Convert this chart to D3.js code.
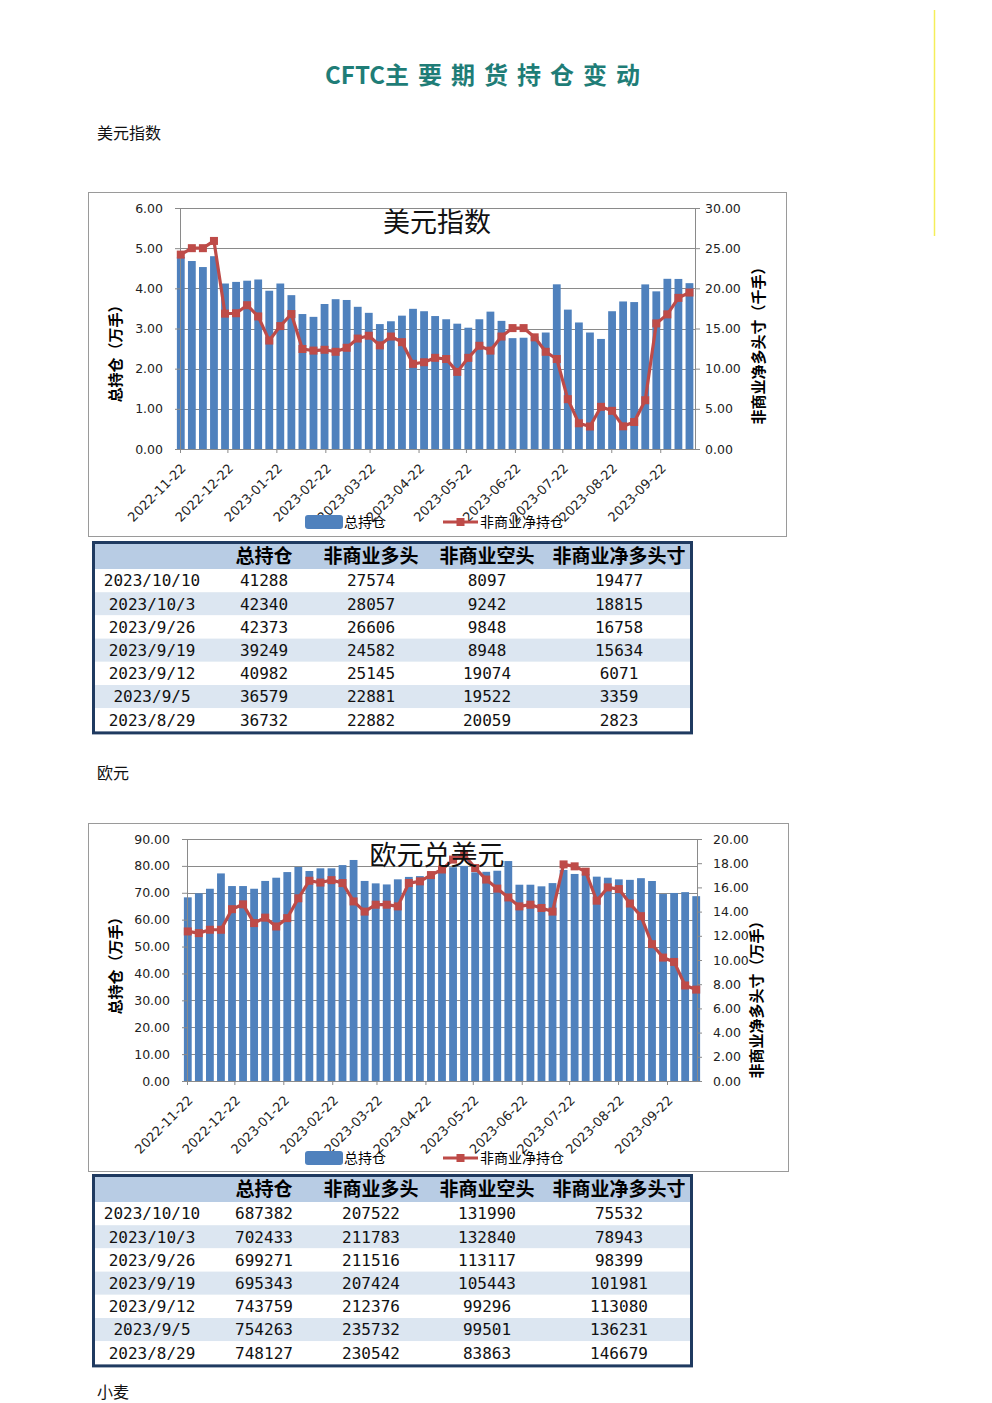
<!DOCTYPE html>
<html>
<head>
<meta charset="utf-8">
<script src="https://cdn.jsdelivr.net/npm/d3@7"></script>
<style>
  body { margin: 0; background: #fff; }
  svg { display: block; }
</style>
</head>
<body>
<div id="canvas"></div>
<script>
// weekly report dates (Tuesdays)
var dates = ["2022-11-22","2022-11-29","2022-12-06","2022-12-13","2022-12-20","2022-12-27",
  "2023-01-03","2023-01-10","2023-01-17","2023-01-24","2023-01-31","2023-02-07","2023-02-14",
  "2023-02-21","2023-02-28","2023-03-07","2023-03-14","2023-03-21","2023-03-28","2023-04-04",
  "2023-04-11","2023-04-18","2023-04-25","2023-05-02","2023-05-09","2023-05-16","2023-05-23",
  "2023-05-30","2023-06-06","2023-06-13","2023-06-20","2023-06-27","2023-07-04","2023-07-11",
  "2023-07-18","2023-07-25","2023-08-01","2023-08-08","2023-08-15","2023-08-22","2023-08-29",
  "2023-09-05","2023-09-12","2023-09-19","2023-09-26","2023-10-03","2023-10-10"];

var monthTicks = ["2022-11-22","2022-12-22","2023-01-22","2023-02-22","2023-03-22","2023-04-22",
  "2023-05-22","2023-06-22","2023-07-22","2023-08-22","2023-09-22"];

// 美元指数: total open interest (万手), non-commercial net (千手)
var usdTotal = [4.78,4.68,4.53,4.80,4.12,4.16,4.19,4.22,3.94,4.12,3.83,3.36,3.29,3.61,3.73,3.71,
  3.54,3.39,3.11,3.18,3.32,3.49,3.43,3.31,3.23,3.12,3.02,3.23,3.42,3.19,2.76,2.77,2.80,2.90,
  4.10,3.47,3.15,2.90,2.74,3.43,3.6732,3.6579,4.0982,3.9249,4.2373,4.2340,4.1288];
var usdNet = [24.2,25.0,25.0,25.9,16.85,16.9,17.9,16.5,13.5,15.3,16.8,12.45,12.25,12.35,12.1,12.6,
  13.75,14.1,12.9,14.0,13.3,10.6,10.8,11.35,11.2,9.6,11.35,12.85,12.25,14.0,15.05,15.05,13.9,12.1,
  11.2,6.2,3.2,2.8,5.25,4.75,2.823,3.359,6.071,15.634,16.758,18.815,19.477];

// 欧元兑美元: total open interest (万手), non-commercial net (万手)
var eurTotal = [68.3,69.8,71.5,77.2,72.5,72.5,71.5,74.4,75.6,77.7,79.6,78.1,79.1,79.1,80.3,82.2,
  74.4,73.5,73.1,75.0,75.9,76.2,77.3,78.8,79.5,80.0,77.6,77.8,78.2,81.8,73.0,73.0,72.4,73.6,
  78.5,77.0,77.0,76.0,75.6,75.0,74.81,75.43,74.38,69.53,69.93,70.24,68.74];
var eurNet = [12.36,12.22,12.5,12.5,14.2,14.6,13.05,13.5,12.77,13.46,15.1,16.55,16.4,16.6,16.36,
  14.84,14.0,14.57,14.57,14.43,16.36,16.5,17.02,17.48,18.3,18.7,17.6,16.65,15.9,15.17,14.43,
  14.57,14.3,14.0,17.9,17.74,17.3,14.9,16.0,15.86,14.6679,13.6231,11.308,10.1981,9.8399,
  7.8943,7.5532];

// tables
var tableHeader = ["", "总持仓", "非商业多头", "非商业空头", "非商业净多头寸"];
var usdRows = [
  ["2023/10/10", "41288", "27574", "8097", "19477"],
  ["2023/10/3", "42340", "28057", "9242", "18815"],
  ["2023/9/26", "42373", "26606", "9848", "16758"],
  ["2023/9/19", "39249", "24582", "8948", "15634"],
  ["2023/9/12", "40982", "25145", "19074", "6071"],
  ["2023/9/5", "36579", "22881", "19522", "3359"],
  ["2023/8/29", "36732", "22882", "20059", "2823"]];
var eurRows = [
  ["2023/10/10", "687382", "207522", "131990", "75532"],
  ["2023/10/3", "702433", "211783", "132840", "78943"],
  ["2023/9/26", "699271", "211516", "113117", "98399"],
  ["2023/9/19", "695343", "207424", "105443", "101981"],
  ["2023/9/12", "743759", "212376", "99296", "113080"],
  ["2023/9/5", "754263", "235732", "99501", "136231"],
  ["2023/8/29", "748127", "230542", "83863", "146679"]];

var parse = d3.utcParse("%Y-%m-%d");
var HALF_DAY = 12 * 3600 * 1000;
var BLUE = "#4f81bd", RED = "#be4b48", GRID = "#8a8a8a";
var CJK = "'Noto Sans CJK SC', 'Noto Sans', sans-serif";

var svg = d3.select("#canvas").append("svg")
  .attr("width", 992).attr("height", 1403);

// page title
var title = svg.append("text")
  .attr("x", 487).attr("y", 84)
  .attr("text-anchor", "middle")
  .style("font-family", CJK).style("font-weight", "bold")
  .style("font-size", "24px")
  .style("fill", "#1f7d77");
title.append("tspan").text("CFTC");
title.append("tspan").style("letter-spacing", "9px").text("主要期货持仓变动");

// thin yellow mark at top right
svg.append("line")
  .attr("x1", 934.5).attr("x2", 934.5).attr("y1", 10).attr("y2", 236)
  .style("stroke", "#f4ee5a").style("stroke-width", 1.5);

function sectionLabel(txt, y) {
  svg.append("text").attr("x", 97).attr("y", y)
    .style("font-family", CJK).style("font-size", "16px").style("fill", "#111")
    .text(txt);
}
sectionLabel("美元指数", 139);
sectionLabel("欧元", 779);
sectionLabel("小麦", 1398);

function drawChart(o) {
  var g = svg.append("g");
  g.append("rect")
    .attr("x", o.fx + 0.5).attr("y", o.fy + 0.5).attr("width", o.fw).attr("height", o.fh)
    .style("fill", "#fff").style("stroke", "#9a9a9a");

  var x = d3.scaleUtc().domain([parse(o.start), parse(o.end)]).range([o.l, o.r]);
  var yL = d3.scaleLinear().domain([0, o.lMax]).range([o.b, o.t]);
  var yR = d3.scaleLinear().domain([0, o.rMax]).range([o.b, o.t]);
  var lTicks = d3.range(0, o.lMax + 1e-9, o.lStep);
  var rTicks = d3.range(0, o.rMax + 1e-9, o.rStep);

  // gridlines
  g.append("g").selectAll("line").data(lTicks).enter().append("line")
    .attr("x1", o.l).attr("x2", o.r)
    .attr("y1", function (d) { return Math.round(yL(d)) + 0.5; })
    .attr("y2", function (d) { return Math.round(yL(d)) + 0.5; })
    .style("stroke", GRID).style("stroke-width", 1);

  // bars
  g.append("g").selectAll("rect").data(o.total).enter().append("rect")
    .attr("x", function (d, i) { return x(+parse(dates[i]) + HALF_DAY) - 3.9; })
    .attr("width", 7.8)
    .attr("y", function (d) { return yL(d); })
    .attr("height", function (d) { return o.b - yL(d); })
    .style("fill", BLUE);

  // axes
  var fmt = d3.format(".2f");
  var left = g.append("g").attr("transform", "translate(" + o.l + ",0)")
    .call(d3.axisLeft(yL).tickValues(lTicks).tickFormat(fmt).tickSize(5).tickSizeOuter(0).tickPadding(o.lPad));
  var right = g.append("g").attr("transform", "translate(" + o.r + ",0)")
    .call(d3.axisRight(yR).tickValues(rTicks).tickFormat(fmt).tickSize(5).tickSizeOuter(0).tickPadding(o.rPad));
  var bottom = g.append("g").attr("transform", "translate(0," + o.b + ")")
    .call(d3.axisBottom(x).tickValues(monthTicks.map(parse))
      .tickFormat(d3.utcFormat("%Y-%m-%d")).tickSize(4).tickSizeOuter(0));
  [left, right, bottom].forEach(function (a) {
    a.selectAll("path, line").style("stroke", GRID);
    a.selectAll("text").style("font-family", "'DejaVu Sans', sans-serif")
      .style("font-size", "12.5px").style("fill", "#222");
  });
  bottom.selectAll("text")
    .attr("text-anchor", "end")
    .attr("transform", "translate(3,17) rotate(-45)")
    .attr("dy", "0.35em").attr("y", 0).attr("x", 0)
    .style("font-size", "13px");

  // net position line
  var pts = o.net.map(function (d, i) { return [x(+parse(dates[i]) + HALF_DAY), yR(d)]; });
  g.append("path")
    .attr("d", d3.line()(pts))
    .style("fill", "none").style("stroke", RED).style("stroke-width", 3.2)
    .style("stroke-linejoin", "round");
  g.append("g").selectAll("rect").data(pts).enter().append("rect")
    .attr("x", function (d) { return d[0] - 4; }).attr("y", function (d) { return d[1] - 4; })
    .attr("width", 8).attr("height", 8)
    .style("fill", RED);

  // axis titles
  g.append("text")
    .attr("transform", "translate(" + o.ltx + "," + o.lty + ") rotate(-90)")
    .attr("text-anchor", "middle").attr("dy", "0.35em")
    .style("font-family", CJK).style("font-weight", "bold").style("font-size", "15px")
    .text("总持仓（万手）");
  g.append("text")
    .attr("transform", "translate(" + o.rtx + "," + o.rty + ") rotate(-90)")
    .attr("text-anchor", "middle").attr("dy", "0.35em")
    .style("font-family", CJK).style("font-weight", "bold").style("font-size", "15px")
    .text(o.rTitle);

  // legend
  var lg = g.append("g").attr("transform", "translate(0," + o.legY + ")");
  lg.append("rect").attr("x", 305).attr("y", -7).attr("width", 38).attr("height", 14)
    .attr("rx", 3).style("fill", BLUE);
  lg.append("text").attr("x", 344).attr("y", 0).attr("dy", "0.36em")
    .style("font-family", CJK).style("font-size", "14px").text("总持仓");
  lg.append("line").attr("x1", 443).attr("x2", 478).attr("y1", 0).attr("y2", 0)
    .style("stroke", RED).style("stroke-width", 3.2);
  lg.append("rect").attr("x", 456.5).attr("y", -4).attr("width", 8).attr("height", 8)
    .style("fill", RED);
  lg.append("text").attr("x", 480).attr("y", 0).attr("dy", "0.36em")
    .style("font-family", CJK).style("font-size", "14px").text("非商业净持仓");

  // chart title
  g.append("text")
    .attr("x", 437).attr("y", o.titleY).attr("text-anchor", "middle").attr("dy", "0.36em")
    .style("font-family", CJK).style("font-size", "27px").style("fill", "#111")
    .text(o.title);
}

function drawTable(rows, top) {
  var cols = [152, 264, 371, 487, 619];
  var g = svg.append("g");
  var rowH = 23.2, headH = 26;
  g.append("rect").attr("x", 93).attr("y", top).attr("width", 598).attr("height", headH)
    .style("fill", "#b8cce4");
  rows.forEach(function (r, i) {
    g.append("rect").attr("x", 93).attr("y", top + headH + i * rowH)
      .attr("width", 598).attr("height", rowH)
      .style("fill", i % 2 ? "#dce6f1" : "#fff");
  });
  g.selectAll("text.h").data(tableHeader).enter().append("text")
    .attr("x", function (d, i) { return cols[i]; })
    .attr("y", top + headH / 2).attr("dy", "0.36em").attr("text-anchor", "middle")
    .style("font-family", CJK).style("font-weight", "bold").style("font-size", "19px")
    .text(function (d) { return d; });
  rows.forEach(function (r, i) {
    g.selectAll(null).data(r).enter().append("text")
      .attr("x", function (d, j) { return cols[j]; })
      .attr("y", top + headH + i * rowH + rowH / 2).attr("dy", "0.36em")
      .attr("text-anchor", "middle")
      .style("font-family", "'DejaVu Sans Mono', monospace").style("font-size", "16px")
      .style("fill", "#111")
      .text(function (d) { return d; });
  });
  g.append("rect").attr("x", 93.5).attr("y", top - 0.5)
    .attr("width", 598).attr("height", headH + rows.length * rowH + 2)
    .style("fill", "none").style("stroke", "#1f3a60").style("stroke-width", 3);
}

drawChart({
  fx: 88, fy: 192, fw: 698, fh: 344,
  l: 180, r: 695, t: 208, b: 449,
  start: "2022-11-22", end: "2023-10-14",
  lMax: 6, lStep: 1, rMax: 30, rStep: 5, lPad: 12, rPad: 5,
  total: usdTotal, net: usdNet,
  ltx: 116, lty: 350, rtx: 759, rty: 342,
  rTitle: "非商业净多头寸（千手）",
  legY: 522, title: "美元指数", titleY: 222
});
drawTable(usdRows, 543);

drawChart({
  fx: 88, fy: 823, fw: 700, fh: 348,
  l: 187, r: 697, t: 839, b: 1081,
  start: "2022-11-22", end: "2023-10-11",
  lMax: 90, lStep: 10, rMax: 20, rStep: 2, lPad: 12, rPad: 11,
  total: eurTotal, net: eurNet,
  ltx: 116, lty: 962, rtx: 757, rty: 996,
  rTitle: "非商业净多头寸（万手）",
  legY: 1158, title: "欧元兑美元", titleY: 855
});
drawTable(eurRows, 1176);
</script>
</body>
</html>
